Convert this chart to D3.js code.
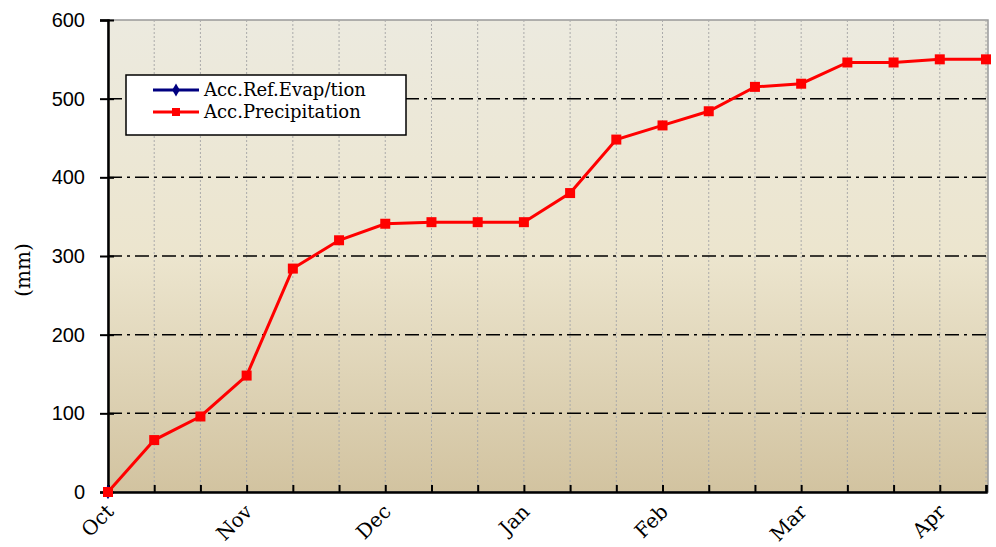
<!DOCTYPE html>
<html>
<head>
<meta charset="utf-8">
<script src="https://cdn.jsdelivr.net/npm/d3@7"></script>
<style>
  body { margin: 0; background: #fff; }
  svg { display: block; font-family: "Palatino Linotype", "Book Antiqua", "DejaVu Serif", serif; }
</style>
</head>
<body>
<div id="chart"></div>
<script>
// 20 periods, month labels on every third one
const periods = d3.range(20);
const monthLabels = ['Oct', 'Nov', 'Dec', 'Jan', 'Feb', 'Mar', 'Apr'];
const accPrecip = [0, 66, 96, 148, 284, 320, 341, 343, 343, 343, 380, 448, 466, 484, 515, 519, 546, 546, 550, 550];
const accEvap = [0];
const yTicks = [0, 100, 200, 300, 400, 500, 600];

const width = 996;
const height = 547;
const margin = { top: 20, right: 8, bottom: 55, left: 108 };

const svg = d3.select('#chart')
    .append('svg')
    .attr('width', width)
    .attr('height', height);

const usableArea = {
    top: margin.top,
    left: margin.left,
    right: width - margin.right,
    bottom: height - margin.bottom,
};
usableArea.width = usableArea.right - usableArea.left;
usableArea.height = usableArea.bottom - usableArea.top;

const xScale = d3.scaleLinear().domain([0, 19]).range([usableArea.left, usableArea.right - 2]);
const yScale = d3.scaleLinear().domain([0, 600]).range([usableArea.bottom, usableArea.top]);

// background gradient
const defs = svg.append('defs');
const grad = defs.append('linearGradient')
    .attr('id', 'bg').attr('x1', 0).attr('y1', 0).attr('x2', 0).attr('y2', 1);
grad.append('stop').attr('offset', '0%').attr('stop-color', '#ECEADF');
grad.append('stop').attr('offset', '50%').attr('stop-color', '#ECE5CE');
grad.append('stop').attr('offset', '100%').attr('stop-color', '#D2C3A0');

svg.append('rect')
    .attr('x', usableArea.left).attr('y', usableArea.top)
    .attr('width', usableArea.width).attr('height', usableArea.height)
    .attr('fill', 'url(#bg)')
    .attr('stroke', '#999').attr('stroke-width', 1.5);

// vertical dotted gridlines
svg.append('g')
    .selectAll('line')
    .data(periods.slice(1))
    .join('line')
    .attr('x1', (d) => xScale(d)).attr('x2', (d) => xScale(d))
    .attr('y1', usableArea.top).attr('y2', usableArea.bottom)
    .attr('stroke', '#aaa')
    .attr('stroke-width', 1)
    .attr('stroke-dasharray', '2,2');

// horizontal dash-dot gridlines
svg.append('g')
    .selectAll('line')
    .data(yTicks.filter((d) => d > 0 && d < 600))
    .join('line')
    .attr('x1', usableArea.left).attr('x2', usableArea.right)
    .attr('y1', (d) => yScale(d)).attr('y2', (d) => yScale(d))
    .attr('stroke', '#000')
    .attr('stroke-width', 1.5)
    .attr('stroke-dasharray', '14,5,3,5');

// y axis
const yAxis = svg.append('g')
    .attr('transform', `translate(${usableArea.left}, 0)`)
    .call(d3.axisLeft(yScale).tickValues(yTicks).tickSize(8).tickPadding(15));
yAxis.select('.domain').attr('stroke-width', 2.5);
yAxis.selectAll('.tick line').attr('x2', -8).attr('x1', 6).attr('stroke-width', 2);
yAxis.selectAll('text').attr('font-size', 20).attr('font-family', null).attr('fill', '#000');

// x axis
const xAxis = svg.append('g')
    .attr('transform', `translate(0, ${usableArea.bottom})`)
    .call(d3.axisBottom(xScale).tickValues(periods).tickSize(-7).tickFormat(''));
xAxis.select('.domain').attr('stroke-width', 2.5);
xAxis.selectAll('.tick line').attr('stroke-width', 2);

svg.append('g')
    .selectAll('text')
    .data(monthLabels)
    .join('text')
    .attr('transform', (d, i) => `translate(${xScale(i * 3) - 3}, ${usableArea.bottom + 11}) rotate(-45)`)
    .attr('text-anchor', 'end')
    .attr('dy', '0.7em')
    .attr('font-size', 20)
    .text((d) => d);

// y label
svg.append('text')
    .attr('transform', `translate(30, ${(usableArea.top + usableArea.bottom) / 2 + 14}) rotate(-90)`)
    .attr('text-anchor', 'middle')
    .attr('font-size', 20)
    .text('(mm)');

// lines
const line = d3.line().x((d, i) => xScale(i)).y((d) => yScale(d));

svg.append('path')
    .datum(accEvap)
    .attr('d', line)
    .attr('fill', 'none')
    .attr('stroke', '#000080')
    .attr('stroke-width', 3);

svg.append('g')
    .selectAll('path')
    .data(accEvap)
    .join('path')
    .attr('d', d3.symbol(d3.symbolDiamond, 60))
    .attr('transform', (d, i) => `translate(${xScale(i)}, ${yScale(d)})`)
    .attr('fill', '#000080');

svg.append('path')
    .datum(accPrecip)
    .attr('d', line)
    .attr('fill', 'none')
    .attr('stroke', '#ff0000')
    .attr('stroke-width', 3);

svg.append('g')
    .selectAll('rect')
    .data(accPrecip)
    .join('rect')
    .attr('x', (d, i) => xScale(i) - 5)
    .attr('y', (d) => yScale(d) - 5)
    .attr('width', 10).attr('height', 10)
    .attr('fill', '#ff0000');

// legend
const legend = svg.append('g').attr('transform', 'translate(126, 75)');
legend.append('rect')
    .attr('width', 280).attr('height', 60)
    .attr('fill', '#fff').attr('stroke', '#000').attr('stroke-width', 1.5);

const legendItems = [
    { name: 'Acc.Ref.Evap/tion', color: '#000080', shape: 'diamond' },
    { name: 'Acc.Precipitation', color: '#ff0000', shape: 'square' },
];
const li = legend.selectAll('g.item')
    .data(legendItems)
    .join('g')
    .attr('class', 'item')
    .attr('transform', (d, i) => `translate(0, ${15 + i * 22})`);
li.append('line')
    .attr('x1', 27).attr('x2', 73)
    .attr('stroke', (d) => d.color).attr('stroke-width', 3);
li.append('path')
    .attr('d', (d) => d.shape === 'diamond'
        ? d3.symbol(d3.symbolDiamond, 50)()
        : d3.symbol(d3.symbolSquare, 64)())
    .attr('transform', 'translate(50, 0)')
    .attr('fill', (d) => d.color);
li.append('text')
    .attr('x', 78).attr('dy', '0.35em')
    .attr('font-size', 18)
    .text((d) => d.name);
</script>
</body>
</html>
